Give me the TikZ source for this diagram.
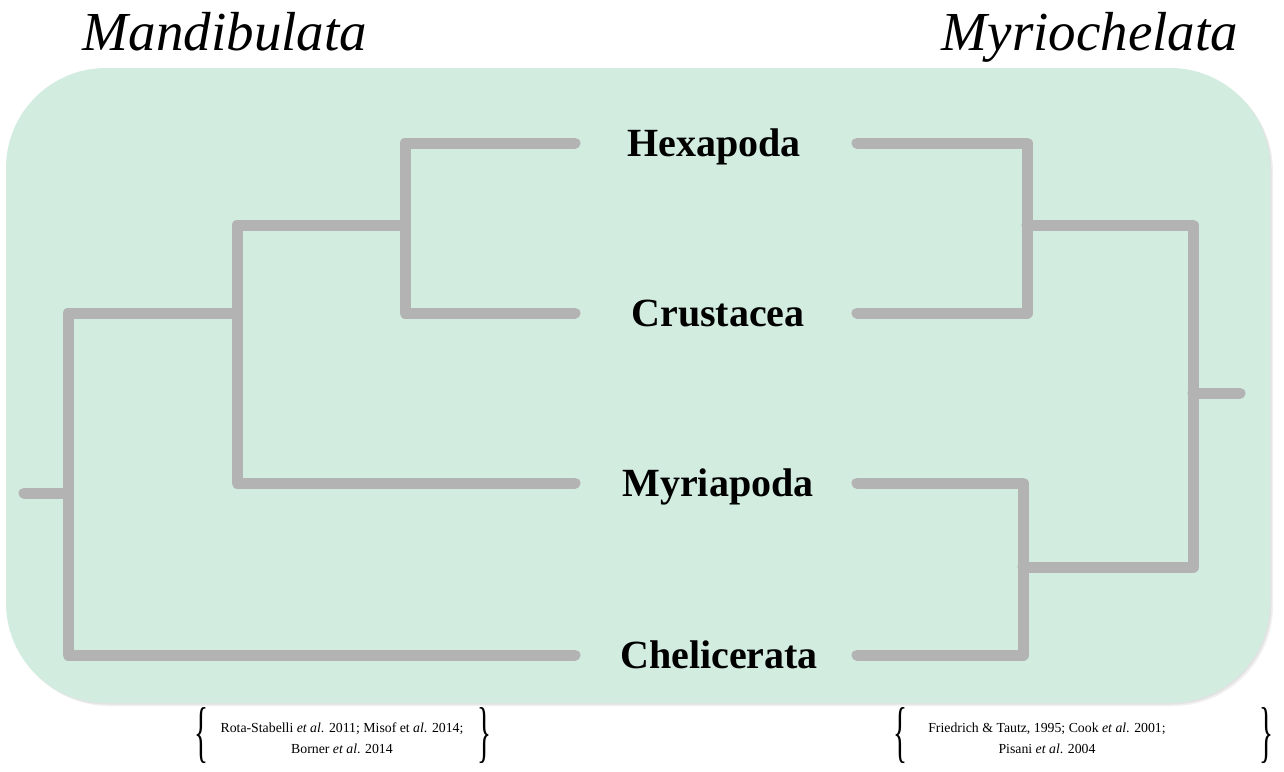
\documentclass[tikz,border=0pt]{standalone}
\usepackage{fontspec}
\usepackage{graphicx}
\setmainfont{Liberation Serif}
\definecolor{mint}{RGB}{210,236,224}
\definecolor{branchgrey}{RGB}{179,179,179}
\tikzset{
  branch/.style={draw=branchgrey, line width=11pt, line cap=round, line join=round},
  taxon/.style={anchor=base, inner sep=0pt, font=\fontsize{40}{44}\selectfont\bfseries},
  clade/.style={anchor=base, inner sep=0pt, font=\fontsize{55}{60}\selectfont\itshape},
  refs/.style={anchor=center, inner sep=0pt, align=center, font=\fontsize{13.8}{21}\selectfont},
  brace/.style={anchor=center, inner sep=0pt}
}
\newcommand{\lbr}{\resizebox*{14pt}{56pt}{\fontsize{20}{22}\selectfont\{}}
\newcommand{\rbr}{\resizebox*{14pt}{56pt}{\fontsize{20}{22}\selectfont\}}}
\begin{document}
\begin{tikzpicture}[x=1pt, y=-1pt]
\useasboundingbox (0,0) rectangle (1284,771);

% background panel with a faint shadow
\fill[black, opacity=0.06, rounded corners=100pt] (9,71) rectangle (1273,706);
\fill[black, opacity=0.06, rounded corners=100pt] (7.5,69.5) rectangle (1271.5,704.5);
\fill[mint, rounded corners=100pt] (6,68) rectangle (1270,703);

% clade headings
\node[clade] (mand) at (225,50) {Mandibulata};
\node[clade] (myrio) at (1090,50) {Myriochelata};

% taxon labels
\node[taxon] (hexa) at (714,156) {Hexapoda};
\node[taxon] (crus) at (718,326) {Crustacea};
\node[taxon] (myri) at (718,496) {Myriapoda};
\node[taxon] (chel) at (719,668) {Chelicerata};

% tips of the left tree
\coordinate (tHex) at (575,143);
\coordinate (tCru) at (575,313);
\coordinate (tMyr) at (575,483);
\coordinate (tChe) at (575,655);
% internal nodes of the left tree
\coordinate (nHC) at (405,225);
\coordinate (nHCM) at (237,313);
\coordinate (lRoot) at (68,493);
\coordinate (lStub) at (24,493);

\draw[branch] (tHex) -| (nHC) |- (tCru);
\draw[branch] (nHC) -| (nHCM) |- (tMyr);
\draw[branch] (nHCM) -| (lRoot) |- (tChe);
\draw[branch] (lRoot) -- (lStub);

% tips of the right tree
\coordinate (sHex) at (857,143);
\coordinate (sCru) at (857,313);
\coordinate (sMyr) at (857,483);
\coordinate (sChe) at (857,655);
% internal nodes of the right tree
\coordinate (mHC) at (1027,225);
\coordinate (mMC) at (1023,567);
\coordinate (rRoot) at (1193,393);
\coordinate (rStub) at (1240,393);

\draw[branch] (sHex) -| (mHC) |- (sCru);
\draw[branch] (sMyr) -| (mMC) |- (sChe);
\draw[branch] (mHC) -| (rRoot) |- (mMC);
\draw[branch] (rRoot) -- (rStub);

% references
\node[brace] (lbA) at (201,736) {\lbr};
\node[refs] (refL) at (342,738) {Rota-Stabelli \textit{et al}. 2011; Misof et \textit{al}. 2014;\\Borner \textit{et al}. 2014};
\node[brace] (rbA) at (484,736) {\rbr};

\node[brace] (lbB) at (900,736) {\lbr};
\node[refs] (refR) at (1047,738) {Friedrich \& Tautz, 1995; Cook \textit{et al}. 2001;\\Pisani \textit{et al}. 2004};
\node[brace] (rbB) at (1266,736) {\rbr};
\end{tikzpicture}
\end{document}
